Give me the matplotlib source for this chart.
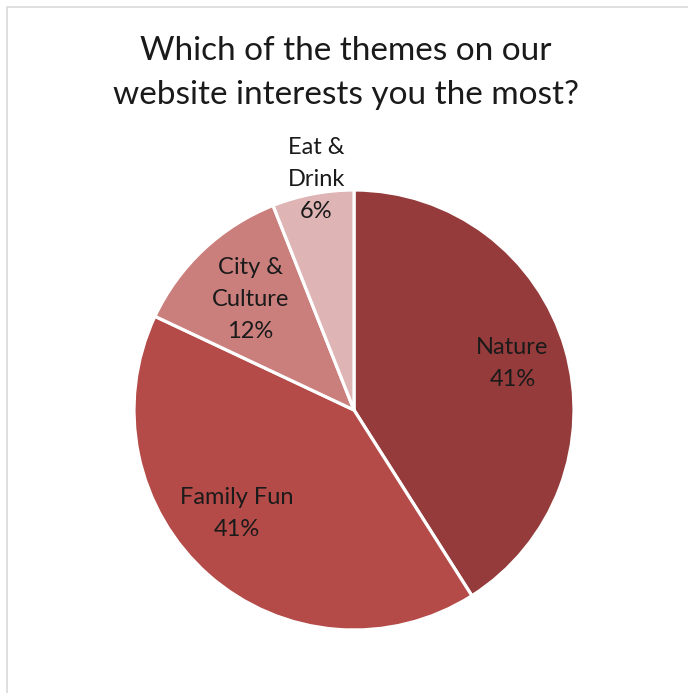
import matplotlib.pyplot as plt
import matplotlib.patches as mpatches
import numpy as np

# данные опроса
themes = ['Nature', 'Family Fun', 'City &\nCulture', 'Eat &\nDrink']
shares = [41, 41, 12, 6]
colors = ['#953B3B', '#B44B48', '#CA7F7D', '#DEB4B4']
# насколько далеко от центра ставить подпись (в долях радиуса)
label_r = [0.75, 0.71, 0.69, 1.06]
label_shift = [0, 7, 0, 1.5]  # доворот подписи в градусах по часовой

plt.rcParams['font.family'] = ['Lato', 'DejaVu Sans']

fig = plt.figure(figsize=(6.88, 6.93), dpi=100)
W, H = 688, 693

# серая рамка вокруг диаграммы
frame = mpatches.Rectangle((6.5 / W, -0.1), 1.2, (H - 7.5) / H + 0.1,
                           transform=fig.transFigure, fill=False,
                           edgecolor='#D9D9D9', linewidth=1.2)
fig.patches.append(frame)

# оси так, чтобы круг был радиусом 220 px с центром (354, 410)
cx, cy, r = 354, 410, 220
ax = fig.add_axes([(cx - r) / W, (H - cy - r) / H, 2 * r / W, 2 * r / H])

wedges, _ = ax.pie(shares, colors=colors, startangle=90, counterclock=False,
                   wedgeprops=dict(edgecolor='white', linewidth=2.3))
ax.set_xlim(-1, 1)
ax.set_ylim(-1, 1)
ax.set_aspect('equal')
ax.axis('off')

# подписи: название + процент
for w, name, val, rr, sh in zip(wedges, themes, shares, label_r, label_shift):
    mid = np.deg2rad((w.theta1 + w.theta2) / 2 - sh)
    ax.text(rr * np.cos(mid), rr * np.sin(mid), f'{name}\n{val}%',
            ha='center', va='center', fontsize=17, color='#1a1a1a',
            linespacing=1.65)

fig.text(346 / W, 1 - 73 / H, 'Which of the themes on our\nwebsite interests you the most?',
         ha='center', va='center', fontsize=24, color='#1a1a1a', linespacing=1.55)

fig.savefig('out.png', dpi=100)
